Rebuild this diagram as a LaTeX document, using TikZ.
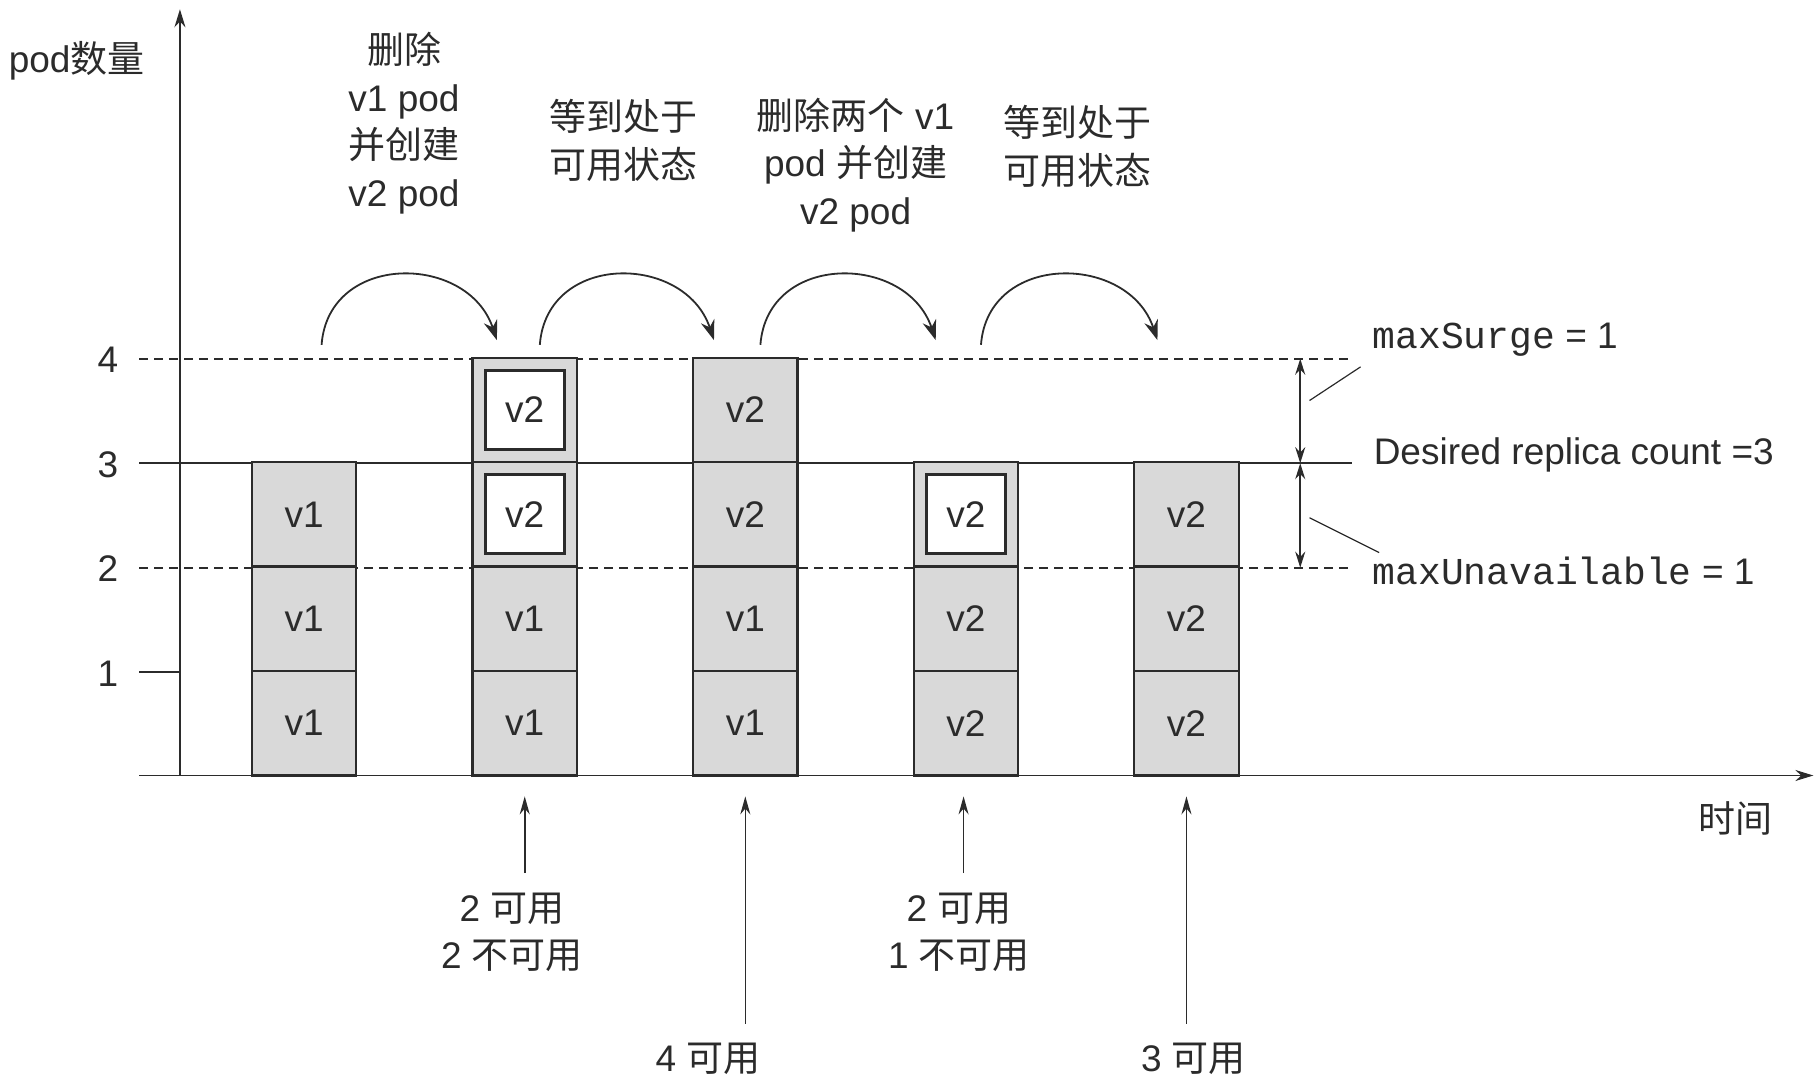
\documentclass[tikz,border=0pt]{standalone}
\usepackage{fontspec}
\setmainfont{Liberation Sans}
\newfontfamily\cjk{Noto Sans CJK SC}
\newfontfamily\monof{Liberation Mono}
\usetikzlibrary{arrows.meta}
\definecolor{ink}{HTML}{2B2B2B}
\definecolor{cellgray}{HTML}{D9D9D9}
\begin{document}
\begin{tikzpicture}[x=0.5805pt,y=-0.5805pt,
  every node/.style={text=ink, font=\fontsize{18.5}{23.8}\selectfont, inner sep=0pt},
  cell/.style={draw=ink, fill=cellgray, line width=1.1pt, minimum width=52.2pt, minimum height=52.2pt},
  wbox/.style={draw=ink, fill=white, line width=1.5pt, minimum width=39.5pt, minimum height=39.5pt},
  lbl/.style={align=center},
  rlbl/.style={anchor=west},
  axis/.style={draw=ink, line width=0.9pt, -{Stealth[length=9pt,width=5.5pt]}},
  level/.style={draw=ink, line width=0.9pt},
  dashlevel/.style={draw=ink, line width=0.9pt, dash pattern=on 4.5pt off 3pt},
  arc/.style={draw=ink, line width=0.9pt, -{Stealth[length=10pt,width=7pt]}},
  uparrow/.style={draw=ink, line width=0.8pt, -{Stealth[length=9pt,width=5pt]}},
  dim/.style={draw=ink, line width=0.9pt, {Stealth[length=8pt,width=5pt]}-{Stealth[length=8pt,width=5pt]}},
  leader/.style={draw=ink, line width=0.6pt}
]
\useasboundingbox (0,0) rectangle (1566,932);

% level lines
\coordinate (l4a) at (120,309); \coordinate (l4b) at (1165,309);
\coordinate (l3a) at (120,399); \coordinate (l3b) at (1165,399);
\coordinate (l2a) at (120,489); \coordinate (l2b) at (1165,489);
\coordinate (l1a) at (120,579); \coordinate (l1b) at (155,579);
\draw[dashlevel] (l4a) -- (l4b);
\draw[level] (l3a) -- (l3b);
\draw[dashlevel] (l2a) -- (l2b);
\draw[level] (l1a) -- (l1b);

% tick labels
\node (t4) at (93,310) {4};
\node (t3) at (93,400) {3};
\node (t2) at (93,490) {2};
\node (t1) at (93,580) {1};

% axes
\coordinate (o) at (155,668);
\coordinate (ytop) at (155,8);
\coordinate (xl) at (120,668);
\coordinate (xr) at (1562,668);
\draw[axis] (o) -- (ytop);
\draw[axis] (xl) -- (xr);

% columns
\node[cell] (c1a) at (262,623) {v1};
\node[cell] (c1b) at (262,533) {v1};
\node[cell] (c1c) at (262,443) {v1};

\node[cell] (c2a) at (452,623) {v1};
\node[cell] (c2b) at (452,533) {v1};
\node[cell] (c2c) at (452,443) {};
\node[wbox] (c2cw) at (452,443) {v2};
\node[cell] (c2d) at (452,353) {};
\node[wbox] (c2dw) at (452,353) {v2};

\node[cell] (c3a) at (642,623) {v1};
\node[cell] (c3b) at (642,533) {v1};
\node[cell] (c3c) at (642,443) {v2};
\node[cell] (c3d) at (642,353) {v2};

\node[cell] (c4a) at (832,623) {v2};
\node[cell] (c4b) at (832,533) {v2};
\node[cell] (c4c) at (832,443) {};
\node[wbox] (c4cw) at (832,443) {v2};

\node[cell] (c5a) at (1022,623) {v2};
\node[cell] (c5b) at (1022,533) {v2};
\node[cell] (c5c) at (1022,443) {v2};

% arcs
\foreach \sx/\ex [count=\i] in {277/428, 465/615, 655/806, 845/997} {
  \coordinate (as\i) at (\sx,297);
  \coordinate (ae\i) at (\ex,293);
  \draw[arc] (as\i) .. controls +(6,-80) and +(-25,-75) .. (ae\i);
}

% top labels
\node (ylab) at (66,52) {pod{\cjk 数量}};
\node[lbl] (s1) at (348,106) {{\cjk 删除}\\v1 pod\\{\cjk 并创建}\\v2 pod};
\node[lbl] (s2) at (537,121) {{\cjk 等到处于}\\{\cjk 可用状态}};
\node[lbl] (s3) at (737,142) {{\cjk 删除两个} v1\\pod {\cjk 并创建}\\v2 pod};
\node[lbl] (s4) at (928,126) {{\cjk 等到处于}\\{\cjk 可用状态}};

% right annotations
\node[rlbl] (ms) at (1182,293) {{\monof\fontsize{19}{20}\selectfont maxSurge} = 1};
\node[rlbl] (drc) at (1183,392) {Desired replica count =3};
\node[rlbl] (mu) at (1182,492) {{\monof\fontsize{19}{20}\selectfont maxUnavailable} = 1};
\coordinate (d4) at (1120,309);
\coordinate (d3) at (1120,399);
\coordinate (d2) at (1120,489);
\draw[dim] (d4) -- (d3);
\draw[dim] (d3) -- (d2);
\coordinate (msa) at (1128,345); \coordinate (msb) at (1172,316);
\coordinate (mua) at (1128,446); \coordinate (mub) at (1188,476);
\draw[leader] (msa) -- (msb);
\draw[leader] (mua) -- (mub);

% time label
\node (time) at (1495,705) {{\cjk 时间}};

% bottom arrows and labels
\node[lbl] (b1) at (441,803) {2 {\cjk 可用}\\2 {\cjk 不可用}};
\node[lbl] (b2) at (610,912) {4 {\cjk 可用}};
\node[lbl] (b3) at (826,803) {2 {\cjk 可用}\\1 {\cjk 不可用}};
\node[lbl] (b4) at (1028,912) {3 {\cjk 可用}};
\coordinate (u1s) at (452,752); \coordinate (u1e) at (452,686);
\coordinate (u2s) at (642,882); \coordinate (u2e) at (642,686);
\coordinate (u3s) at (830,752); \coordinate (u3e) at (830,686);
\coordinate (u4s) at (1022,882); \coordinate (u4e) at (1022,686);
\draw[uparrow] (u1s) -- (u1e);
\draw[uparrow] (u2s) -- (u2e);
\draw[uparrow] (u3s) -- (u3e);
\draw[uparrow] (u4s) -- (u4e);
\end{tikzpicture}
\end{document}
